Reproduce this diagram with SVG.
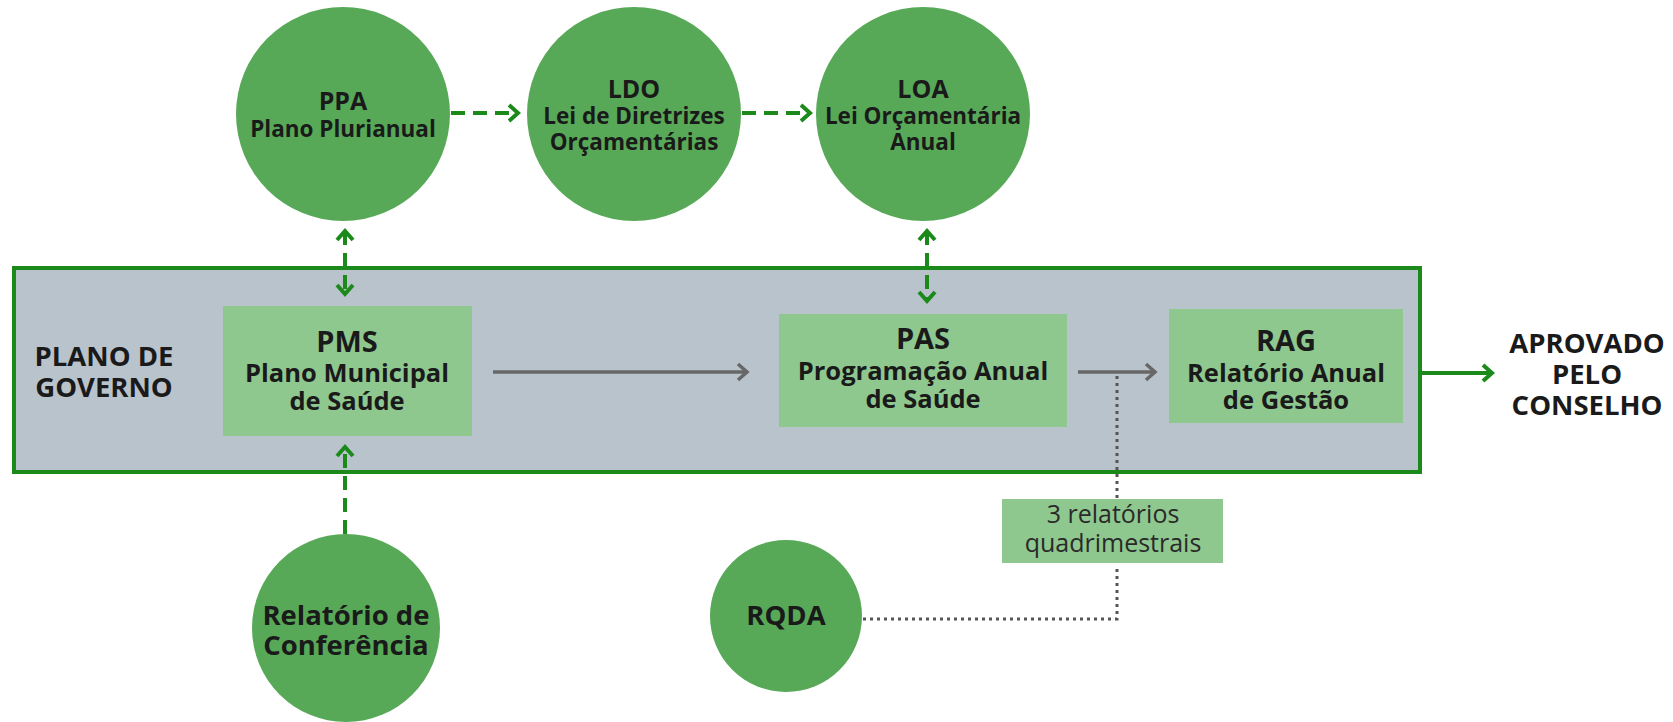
<svg xmlns="http://www.w3.org/2000/svg" width="1673" height="722" viewBox="0 0 1673 722">
<style>
  text { font-family: "Open Sans", "Noto Sans", "Liberation Sans", sans-serif; fill: #1a1a1a; text-anchor: middle; }
  .ct { font-size: 25px; font-weight: 700; }
  .cs { font-size: 22.5px; font-weight: 700; }
  .rt { font-size: 29px; font-weight: 700; }
  .rs { font-size: 25.5px; font-weight: 700; }
  .big { font-size: 27.5px; font-weight: 700; }
  .lbl { font-size: 25px; font-weight: 400; fill: #2a2a2a; }
  .circ { fill: #57a957; }
  .rect { fill: #8fc88f; }
  .gd { stroke: #1b8a1b; stroke-width: 4; fill: none; stroke-dasharray: 14 8; }
  .gs { stroke: #1b8a1b; stroke-width: 4; fill: none; }
  .gr { stroke: #676767; stroke-width: 3.5; fill: none; }
  .dot { stroke: #555; stroke-width: 3; fill: none; stroke-dasharray: 3 4; }
</style>
<defs>
  <marker id="ag" markerUnits="userSpaceOnUse" markerWidth="20" markerHeight="24" refX="11" refY="10" orient="auto-start-reverse" viewBox="0 0 20 24">
    <path d="M2,2 L11,10 L2,18" fill="none" stroke="#1b8a1b" stroke-width="4" stroke-dasharray="none"/>
  </marker>
  <marker id="agr" markerUnits="userSpaceOnUse" markerWidth="20" markerHeight="24" refX="11" refY="10" orient="auto" viewBox="0 0 20 24">
    <path d="M2,2 L11,10 L2,18" fill="none" stroke="#676767" stroke-width="3.5" stroke-dasharray="none"/>
  </marker>
</defs>

<g id="plano-governo">
  <rect x="14" y="268" width="1406" height="204" fill="#b9c3cc" stroke="#1b8a1b" stroke-width="4"/>
  <text class="big" x="104" y="366">PLANO DE</text>
  <text class="big" x="104" y="397">GOVERNO</text>
</g>

<g id="ppa">
  <circle class="circ" cx="343" cy="114" r="107"/>
  <text class="ct" x="343" y="110">PPA</text>
  <text class="cs" x="343" y="137">Plano Plurianual</text>
</g>
<g id="ldo">
  <circle class="circ" cx="634" cy="114" r="107"/>
  <text class="ct" x="634" y="98">LDO</text>
  <text class="cs" x="634" y="124">Lei de Diretrizes</text>
  <text class="cs" x="634" y="150">Orçamentárias</text>
</g>
<g id="loa">
  <circle class="circ" cx="923" cy="114" r="107"/>
  <text class="ct" x="923" y="98">LOA</text>
  <text class="cs" x="923" y="124">Lei Orçamentária</text>
  <text class="cs" x="923" y="150">Anual</text>
</g>

<g id="pms">
  <rect class="rect" x="223" y="306" width="249" height="130"/>
  <text class="rt" x="347" y="352">PMS</text>
  <text class="rs" x="347" y="382">Plano Municipal</text>
  <text class="rs" x="347" y="410">de Saúde</text>
</g>
<g id="pas">
  <rect class="rect" x="779" y="314" width="288" height="113"/>
  <text class="rt" x="923" y="349">PAS</text>
  <text class="rs" x="923" y="380">Programação Anual</text>
  <text class="rs" x="923" y="408">de Saúde</text>
</g>
<g id="rag">
  <rect class="rect" x="1169" y="309" width="234" height="114"/>
  <text class="rt" x="1286" y="351">RAG</text>
  <text class="rs" x="1286" y="382">Relatório Anual</text>
  <text class="rs" x="1286" y="409">de Gestão</text>
</g>

<g id="aprovado">
  <text class="big" x="1587" y="353">APROVADO</text>
  <text class="big" x="1587" y="384">PELO</text>
  <text class="big" x="1587" y="415">CONSELHO</text>
</g>

<g id="relatorio-conferencia">
  <circle class="circ" cx="346" cy="628" r="94"/>
  <text class="big" x="346" y="625">Relatório de</text>
  <text class="big" x="346" y="655">Conferência</text>
</g>
<g id="rqda">
  <circle class="circ" cx="786" cy="616" r="76"/>
  <text class="big" x="786" y="625">RQDA</text>
</g>
<g id="quadrimestrais">
  <rect class="rect" x="1002" y="499" width="221" height="64"/>
  <text class="lbl" x="1113" y="523">3 relatórios</text>
  <text class="lbl" x="1113" y="552">quadrimestrais</text>
</g>

<g id="connectors">
  <line class="gd" x1="451" y1="113" x2="518" y2="113" marker-end="url(#ag)"/>
  <line class="gd" x1="742" y1="113" x2="810" y2="113" marker-end="url(#ag)"/>
  <line class="gd" x1="345" y1="231" x2="345" y2="294" marker-start="url(#ag)" marker-end="url(#ag)"/>
  <line class="gd" x1="927" y1="231" x2="927" y2="301" marker-start="url(#ag)" marker-end="url(#ag)"/>
  <line class="gd" x1="345" y1="534" x2="345" y2="447" marker-end="url(#ag)"/>
  <line class="gr" x1="493" y1="372" x2="747" y2="372" marker-end="url(#agr)"/>
  <line class="gr" x1="1078" y1="372" x2="1155" y2="372" marker-end="url(#agr)"/>
  <line class="gs" x1="1420" y1="373" x2="1492" y2="373" marker-end="url(#ag)"/>
  <polyline class="dot" points="1117,376 1117,499"/>
  <polyline class="dot" points="863,619 1117,619 1117,566"/>
</g>
</svg>
